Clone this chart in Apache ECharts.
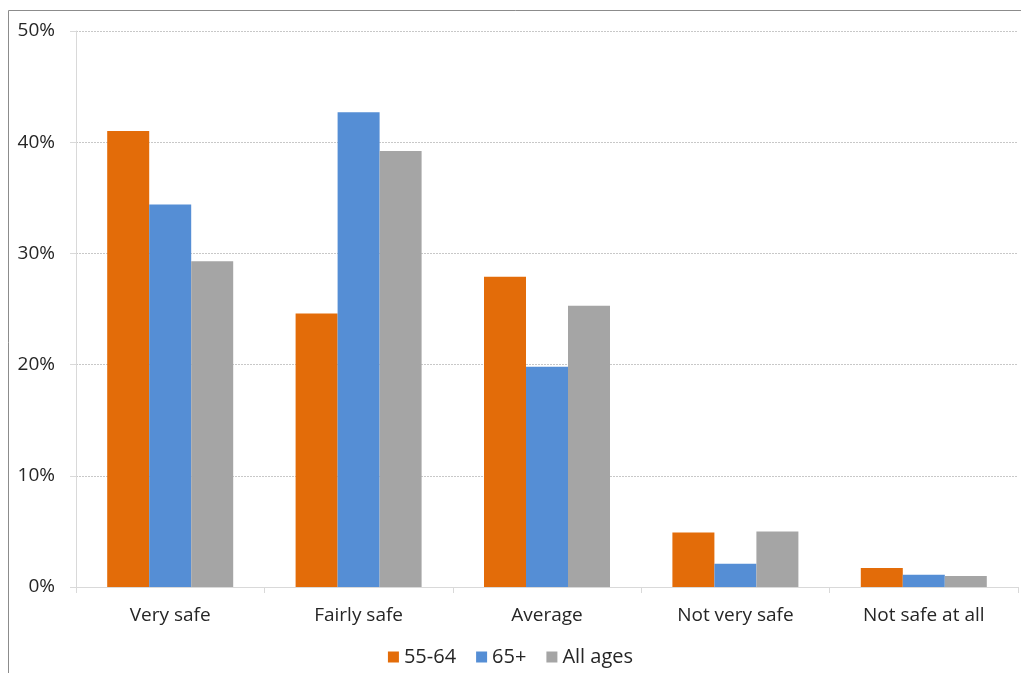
<!DOCTYPE html>
<html>
<head>
<meta charset="utf-8">
<script src="https://cdn.jsdelivr.net/npm/echarts@6/dist/echarts.min.js"></script>
<style>html,body{margin:0;padding:0;background:#fff}#c{width:1021px;height:673px}</style>
</head>
<body>
<div id="c"></div>
<script>
const categories = ['Very safe', 'Fairly safe', 'Average', 'Not very safe', 'Not safe at all'];
const s5564 = [41.0, 24.6, 27.9, 4.9, 1.7];
const s65 = [34.4, 42.7, 19.8, 2.1, 1.1];
const sAll = [29.3, 39.2, 25.3, 5.0, 1.0];
const seriesNames = ['55-64', '65+', 'All ages'];
const yTicks = [0, 10, 20, 30, 40, 50];

const font = 'Open Sans, Liberation Sans, sans-serif';
const chart = echarts.init(document.getElementById('c'));
chart.setOption({
  animation: false,
  graphic: [{type: 'rect', shape: {x: 8.5, y: 10.5, width: 1030, height: 700}, style: {fill: 'none', stroke: '#8c8c8c', lineWidth: 1}}],
  grid: {left: 76, right: 3, top: 31, bottom: 86},
  legend: {
    top: 642, left: 'center', itemWidth: 11, itemHeight: 11, itemGap: 20,
    icon: 'rect', textStyle: {fontSize: 20, color: '#262626', fontFamily: font},
    data: seriesNames
  },
  xAxis: {
    type: 'category', data: categories,
    axisLine: {lineStyle: {color: '#d9d9d9'}},
    axisTick: {show: true, length: 6, lineStyle: {color: '#d9d9d9'}},
    axisLabel: {fontSize: 19, color: '#262626', fontFamily: font, margin: 19}
  },
  yAxis: {
    type: 'value', min: 0, max: 50, interval: 10,
    axisLine: {show: true, lineStyle: {color: '#d9d9d9'}},
    axisTick: {show: true, length: 6, lineStyle: {color: '#d9d9d9'}},
    splitLine: {lineStyle: {color: '#c8c8c8', type: [2, 1]}},
    axisLabel: {fontSize: 19, color: '#262626', fontFamily: font, margin: 21, formatter: v => yTicks.includes(v) ? v + '%' : ''}
  },
  series: [
    {name: seriesNames[0], type: 'bar', data: s5564, barWidth: 42, barGap: '0%', itemStyle: {color: '#E36C09'}},
    {name: seriesNames[1], type: 'bar', data: s65, barWidth: 42, barGap: '0%', itemStyle: {color: '#558ED5'}},
    {name: seriesNames[2], type: 'bar', data: sAll, barWidth: 42, barGap: '0%', itemStyle: {color: '#A5A5A5'}}
  ]
});
</script>
</body>
</html>
